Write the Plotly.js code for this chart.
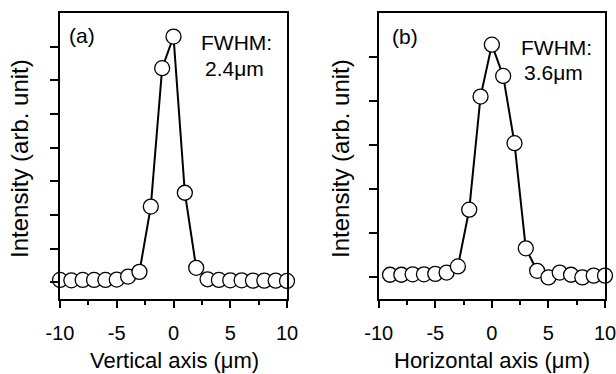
<!DOCTYPE html>
<html>
<head>
<meta charset="utf-8">
<script src="https://cdn.plot.ly/plotly-3.0.1.min.js"></script>
<style>html,body{margin:0;padding:0;background:#fff;}#chart{width:616px;height:374px;}</style>
</head>
<body>
<div id="chart"></div>
<script>
// Panel (a): vertical profile
const posA = [-10,-9,-8,-7,-6,-5,-4,-3,-2,-1,0,1,2,3,4,5,6,7,8,9,10];
const intensityA = [0.07,0.06,0.07,0.07,0.07,0.08,0.17,0.31,2.25,6.36,7.30,2.66,0.43,0.09,0.07,0.06,0.06,0.05,0.05,0.05,0.04];
// Panel (b): horizontal profile
const posB = [-9,-8,-7,-6,-5,-4,-3,-2,-1,0,1,2,3,4,5,6,7,8,9,10];
const intensityB = [0.04,0.04,0.05,0.05,0.06,0.09,0.23,1.52,4.09,5.27,4.56,3.03,0.64,0.13,-0.02,0.09,0.04,-0.02,0.02,0.02];

const xTickVals = [-10,-5,0,5,10];
const xTickText = ['-10','-5','0','5','10'];
const yTickValsA = [0,1,2,3,4,5,6,7];
const yTickValsB = [0,1,2,3,4,5];

const labelA = '(a)', labelB = '(b)';
const fwhmTitle = 'FWHM:';
const fwhmA = '2.4μm', fwhmB = '3.6μm';
const xTitleA = 'Vertical axis (μm)', xTitleB = 'Horizontal axis (μm)';
const yTitle = 'Intensity (arb. unit)';

const W = 616, H = 374;
const px = v => v / W;
const py = v => 1 - v / H;
const FONT = 'Arial, "Liberation Sans", Helvetica, sans-serif';

function trace(x, y, xa, ya) {
  return {
    x: x, y: y, xaxis: xa, yaxis: ya, type: 'scatter', mode: 'lines+markers',
    line: {color: '#000', width: 2},
    marker: {size: 15, color: '#fff', line: {color: '#000', width: 1.3}},
    cliponaxis: false, showlegend: false, hoverinfo: 'skip'
  };
}

function xAxis(domain, anchor) {
  return {
    domain: domain, anchor: anchor, range: [-10, 10],
    showline: true, mirror: true, linecolor: '#000', linewidth: 2,
    showgrid: false, zeroline: false,
    ticks: 'outside', ticklen: 7, tickwidth: 2, tickcolor: '#000',
    tickvals: xTickVals, ticktext: xTickText,
    ticklabelstandoff: 8, ticklabeloverflow: 'allow',
    minor: {dtick: 2.5, tick0: 0, ticks: 'outside', ticklen: 4, tickwidth: 2, tickcolor: '#000', showgrid: false},
    tickfont: {family: FONT, size: 20, color: '#000'}
  };
}
function yAxis(domain, anchor, range, tv) {
  return {
    domain: domain, anchor: anchor, range: range,
    showline: true, mirror: true, linecolor: '#000', linewidth: 2,
    showgrid: false, zeroline: false,
    ticks: 'outside', ticklen: 8, tickwidth: 2, tickcolor: '#000',
    tickvals: tv, showticklabels: false
  };
}

const yDom = [py(298.5), py(13)];

function ann(text, x, y, size, opts) {
  return Object.assign({
    text: text, x: px(x), y: py(y), xref: 'paper', yref: 'paper',
    showarrow: false, xanchor: 'center', yanchor: 'middle',
    font: {family: FONT, size: size, color: '#000'}
  }, opts || {});
}

const layout = {
  width: W, height: H,
  margin: {l: 0, r: 0, t: 0, b: 0},
  paper_bgcolor: '#fff', plot_bgcolor: '#fff',
  xaxis: xAxis([px(60), px(287)], 'y'),
  yaxis: yAxis(yDom, 'x', [-0.481, 8.0], yTickValsA),
  xaxis2: xAxis([px(378.7), px(605)], 'y2'),
  yaxis2: yAxis(yDom, 'x2', [-0.50, 5.99], yTickValsB),
  annotations: [
    ann(labelA, 82, 36, 21),
    ann(fwhmTitle, 237, 42, 21),
    ann(fwhmA, 234, 69, 21),
    ann(labelB, 405, 37, 21),
    ann(fwhmTitle, 556, 47, 21),
    ann(fwhmB, 553, 72, 21),
    ann(xTitleA, 174, 360, 22),
    ann(xTitleB, 492, 360, 22),
    ann(yTitle, 20, 159, 24, {textangle: -90}),
    ann(yTitle, 341, 159, 24, {textangle: -90})
  ]
};

Plotly.newPlot('chart', [trace(posA, intensityA, 'x', 'y'), trace(posB, intensityB, 'x2', 'y2')], layout, {staticPlot: true, displayModeBar: false});
</script>
</body>
</html>
